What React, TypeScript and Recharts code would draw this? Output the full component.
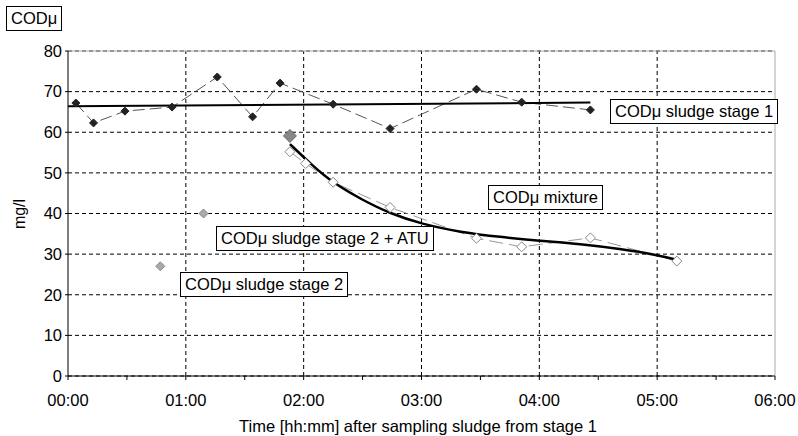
import React from "react";
import {
  ComposedChart,
  Line,
  Scatter,
  XAxis,
  YAxis,
  CartesianGrid,
  ReferenceLine,
} from "recharts";

// time in minutes after sampling, COD in mg/l
const stage1Times = [4, 13, 29, 53, 76, 94, 108, 135, 164, 208, 231, 266];
const stage1Cod = [67.2, 62.3, 65.2, 66.2, 73.6, 63.8, 72.1, 66.9, 60.9, 70.6, 67.4, 65.5];

const stage1TrendTimes = [0, 266];
const stage1TrendCod = [66.4, 67.3];

const stage2Times = [47, 69];
const stage2Cod = [27.0, 40.0];

const atuTimes = [113];
const atuCod = [59.1];

const mixtureTimes = [113, 121, 135, 164, 208, 231, 266, 310];
const mixtureCod = [55.2, 52.3, 47.7, 41.5, 33.9, 31.8, 34.0, 28.3];

const mixtureTrendTimes = [113, 124, 135, 150, 164, 180, 200, 220, 240, 261, 281, 300, 310];
const mixtureTrendCod = [57.1, 52.0, 47.5, 43.3, 40.0, 37.4, 35.4, 34.2, 33.3, 32.5, 31.3, 29.8, 28.6];

const xTicks = [0, 30, 60, 90, 120, 150, 180, 210, 240, 270, 300, 330, 360];
const hourLines = [60, 120, 180, 240, 300];
const yTicks = [0, 10, 20, 30, 40, 50, 60, 70, 80];

const zip = (ts: number[], vs: number[]) => ts.map((t, i) => ({ t, v: vs[i] }));

const stage1Data = zip(stage1Times, stage1Cod);
const stage1TrendData = zip(stage1TrendTimes, stage1TrendCod);
const stage2Data = zip(stage2Times, stage2Cod);
const atuData = zip(atuTimes, atuCod);
const mixtureData = zip(mixtureTimes, mixtureCod);
const mixtureTrendData = zip(mixtureTrendTimes, mixtureTrendCod);

const FONT = '"Liberation Sans", Arial, sans-serif';

const fmtTime = (m: number) => {
  if (m % 60 !== 0) return "";
  const h = m / 60;
  return `0${h}:00`;
};

function diamond(r: number, fill: string, stroke: string) {
  return (props: any) => {
    const { cx, cy, key } = props;
    if (cx == null || cy == null) return <g key={key} />;
    return (
      <path
        key={key}
        d={`M${cx},${cy - r}L${cx + r},${cy}L${cx},${cy + r}L${cx - r},${cy}Z`}
        fill={fill}
        stroke={stroke}
        strokeWidth={1}
      />
    );
  };
}

const boxStyle: React.CSSProperties = {
  position: "absolute",
  background: "#fff",
  border: "1.5px solid #000",
  fontFamily: FONT,
  fontSize: 16.5,
  color: "#000",
  padding: "1px 4px",
  lineHeight: "21px",
  whiteSpace: "nowrap",
};

export default function App() {
  return (
    <div style={{ position: "absolute", left: 0, top: 0, width: 798, height: 436, background: "#fff" }}>
      <ComposedChart
        width={798}
        height={436}
        margin={{ top: 51, right: 23, bottom: 0, left: 0 }}
      >
        <CartesianGrid vertical={false} stroke="#000" strokeDasharray="4 3" />
        {hourLines.map((h) => (
          <ReferenceLine key={h} x={h} stroke="#000" strokeDasharray="4 3" />
        ))}
        <ReferenceLine y={80} stroke="#aaa" />
        <ReferenceLine x={360} stroke="#aaa" />
        <XAxis
          type="number"
          dataKey="t"
          domain={[0, 360]}
          ticks={xTicks}
          tickFormatter={fmtTime}
          interval={0}
          height={60}
          stroke="#000"
          tickSize={4}
          tickMargin={14}
          tick={{ fill: "#000", fontSize: 16.5, fontFamily: FONT }}
        />
        <YAxis
          type="number"
          domain={[0, 80]}
          ticks={yTicks}
          width={68}
          stroke="#000"
          tickSize={3}
          tickMargin={3}
          tick={{ fill: "#000", fontSize: 16.5, fontFamily: FONT }}
        />
        <Line
          data={stage1Data}
          dataKey="v"
          stroke="#555"
          strokeWidth={1}
          strokeDasharray="12 5"
          dot={diamond(4, "#222", "#222")}
          isAnimationActive={false}
        />
        <Line
          data={stage1TrendData}
          dataKey="v"
          stroke="#000"
          strokeWidth={2}
          dot={false}
          isAnimationActive={false}
        />
        <Line
          data={mixtureData}
          dataKey="v"
          stroke="#999"
          strokeWidth={1}
          strokeDasharray="14 6"
          dot={diamond(5, "#fff", "#888")}
          isAnimationActive={false}
        />
        <Line
          data={mixtureTrendData}
          dataKey="v"
          type="basis"
          stroke="#000"
          strokeWidth={2.5}
          dot={false}
          isAnimationActive={false}
        />
        <Scatter
          data={stage2Data}
          dataKey="v"
          shape={diamond(4.5, "#aaa", "#888")}
          isAnimationActive={false}
        />
        <Scatter
          data={atuData}
          dataKey="v"
          shape={diamond(6.5, "#888", "#666")}
          isAnimationActive={false}
        />
      </ComposedChart>

      <div style={{ ...boxStyle, left: 6, top: 6 }}>CODμ</div>
      <div style={{ ...boxStyle, left: 610, top: 99 }}>CODμ sludge stage 1</div>
      <div style={{ ...boxStyle, left: 488, top: 185 }}>CODμ mixture</div>
      <div style={{ ...boxStyle, left: 216, top: 226 }}>CODμ sludge stage 2 + ATU</div>
      <div style={{ ...boxStyle, left: 180, top: 272 }}>CODμ sludge stage 2</div>

      <div
        style={{
          position: "absolute",
          left: 20,
          top: 214,
          transform: "translate(-50%, -50%) rotate(-90deg)",
          fontFamily: FONT,
          fontSize: 16,
          whiteSpace: "nowrap",
        }}
      >
        mg/l
      </div>
      <div
        style={{
          position: "absolute",
          left: 418,
          top: 426,
          transform: "translate(-50%, -50%)",
          fontFamily: FONT,
          fontSize: 16.5,
          whiteSpace: "nowrap",
        }}
      >
        Time [hh:mm] after sampling sludge from stage 1
      </div>
    </div>
  );
}
